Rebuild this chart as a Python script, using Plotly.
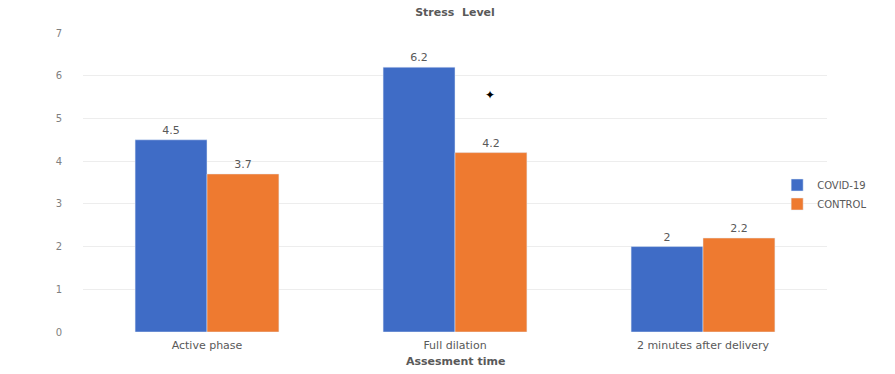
import plotly.graph_objects as go

categories = ["Active phase", "Full dilation", "2 minutes after delivery"]
covid = [4.5, 6.2, 2.0]
control = [3.7, 4.2, 2.2]
covid_labels = ["4.5", "6.2", "2"]
control_labels = ["3.7", "4.2", "2.2"]
y_ticks = [0, 1, 2, 3, 4, 5, 6, 7]

fig = go.Figure()
fig.add_trace(go.Bar(x=categories, y=covid, name="COVID-19", marker_color="#3F6CC6",
                     text=covid_labels, textposition="outside",
                     textfont=dict(size=11, color="#595959"), cliponaxis=False))
fig.add_trace(go.Bar(x=categories, y=control, name="CONTROL", marker_color="#EE7A30",
                     text=control_labels, textposition="outside",
                     textfont=dict(size=11, color="#595959"), cliponaxis=False))

fig.update_layout(
    width=895, height=374,
    margin=dict(l=83, r=68, t=33, b=42),
    paper_bgcolor="white", plot_bgcolor="white",
    barmode="group", bargap=0.42, bargroupgap=0,
    font=dict(family="DejaVu Sans", size=11, color="#595959"),
    title=dict(text="<b>Stress  Level</b>", x=455/895, xanchor="center", y=1-12/374, yanchor="middle",
               font=dict(size=11, color="#595959")),
    legend=dict(x=0.933, y=1-172/374, xref="paper", yref="paper", xanchor="left", yanchor="top",
                font=dict(size=10, color="#595959"), bgcolor="rgba(0,0,0,0)",
                itemwidth=30, tracegroupgap=2),
    showlegend=True,
)
fig.update_xaxes(showgrid=False, showline=False, ticks="", tickfont=dict(size=11, color="#595959"),
                 ticklabelstandoff=5)
fig.update_yaxes(range=[0, 7], tickvals=y_ticks, showgrid=True, gridcolor="#EDEDED", gridwidth=1,
                 zeroline=False, showline=False, ticks="", tickfont=dict(size=10, color="#7f7f7f"),
                 ticklabelstandoff=20)

fig.add_annotation(text="<b>Assesment time</b>", xref="paper", yref="paper",
                   x=0.5, y=0, showarrow=False, yshift=-38,
                   font=dict(size=11, color="#595959"))
fig.add_annotation(text="<b>✦</b>", xref="x", yref="y", x=1.14, y=5.55, showarrow=False,
                   font=dict(size=12, color="#000000"))

fig.write_html("out.html")
